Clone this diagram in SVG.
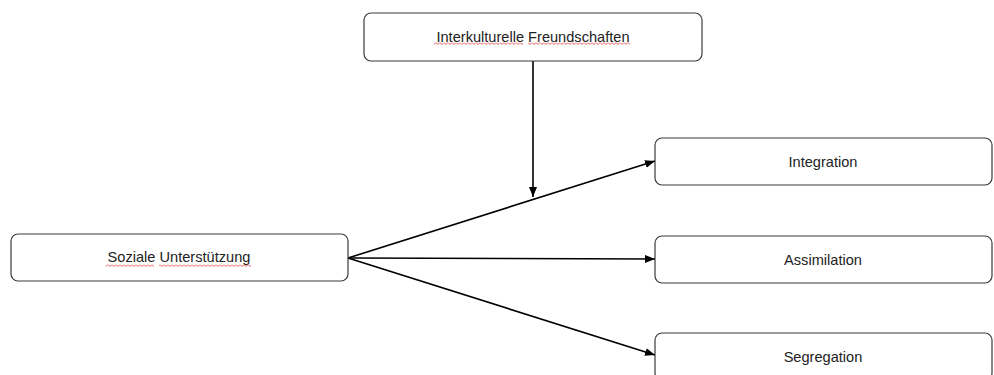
<svg xmlns="http://www.w3.org/2000/svg" width="994" height="375" viewBox="0 0 994 375">
<style>
.box{fill:#fff;stroke:#3a3a3a;stroke-width:1.2}
.lbl{font-family:"Liberation Sans",Arial,sans-serif;font-size:14.6px;fill:#222;text-anchor:middle}
.con{stroke:#000;stroke-width:1.6;fill:none}
</style>
<defs>
<marker id="ah" viewBox="0 0 10 8" refX="10" refY="4" markerWidth="10" markerHeight="8" markerUnits="userSpaceOnUse" orient="auto">
<path d="M0 0 L10 4 L0 8 Z" fill="#000"/>
</marker>
<pattern id="sq" width="4" height="3" patternUnits="userSpaceOnUse">
<path d="M0 0.5 L2 2.5 L4 0.5" fill="none" stroke="#e0302a" stroke-width="0.8"/>
</pattern>
</defs>
<rect width="994" height="375" fill="#fff"/>
<g id="connectors">
<line class="con" x1="533" y1="61" x2="533" y2="197" marker-end="url(#ah)"/>
<line class="con" x1="348" y1="258" x2="655" y2="161" marker-end="url(#ah)"/>
<line class="con" x1="348" y1="258" x2="655" y2="259" marker-end="url(#ah)"/>
<line class="con" x1="348" y1="258" x2="655" y2="355" marker-end="url(#ah)"/>
</g>
<g id="node-freundschaften">
<rect class="box" x="364" y="13" width="338" height="48" rx="7"/>
<text class="lbl" x="533" y="42">Interkulturelle Freundschaften</text>
<rect x="434" y="42" width="89" height="3" fill="url(#sq)"/>
<rect x="528" y="42" width="102" height="3" fill="url(#sq)"/>
</g>
<g id="node-soziale">
<rect class="box" x="11" y="234" width="337" height="47" rx="7"/>
<text class="lbl" x="179" y="262">Soziale Unterstützung</text>
<rect x="106" y="264" width="48" height="3" fill="url(#sq)"/>
<rect x="159" y="264" width="92" height="3" fill="url(#sq)"/>
</g>
<g id="node-integration">
<rect class="box" x="655" y="138" width="337" height="47" rx="7"/>
<text class="lbl" x="823" y="167">Integration</text>
</g>
<g id="node-assimilation">
<rect class="box" x="655" y="236" width="337" height="47" rx="7"/>
<text class="lbl" x="823" y="265">Assimilation</text>
</g>
<g id="node-segregation">
<rect class="box" x="655" y="333" width="337" height="47" rx="7"/>
<text class="lbl" x="823" y="362">Segregation</text>
</g>
</svg>
